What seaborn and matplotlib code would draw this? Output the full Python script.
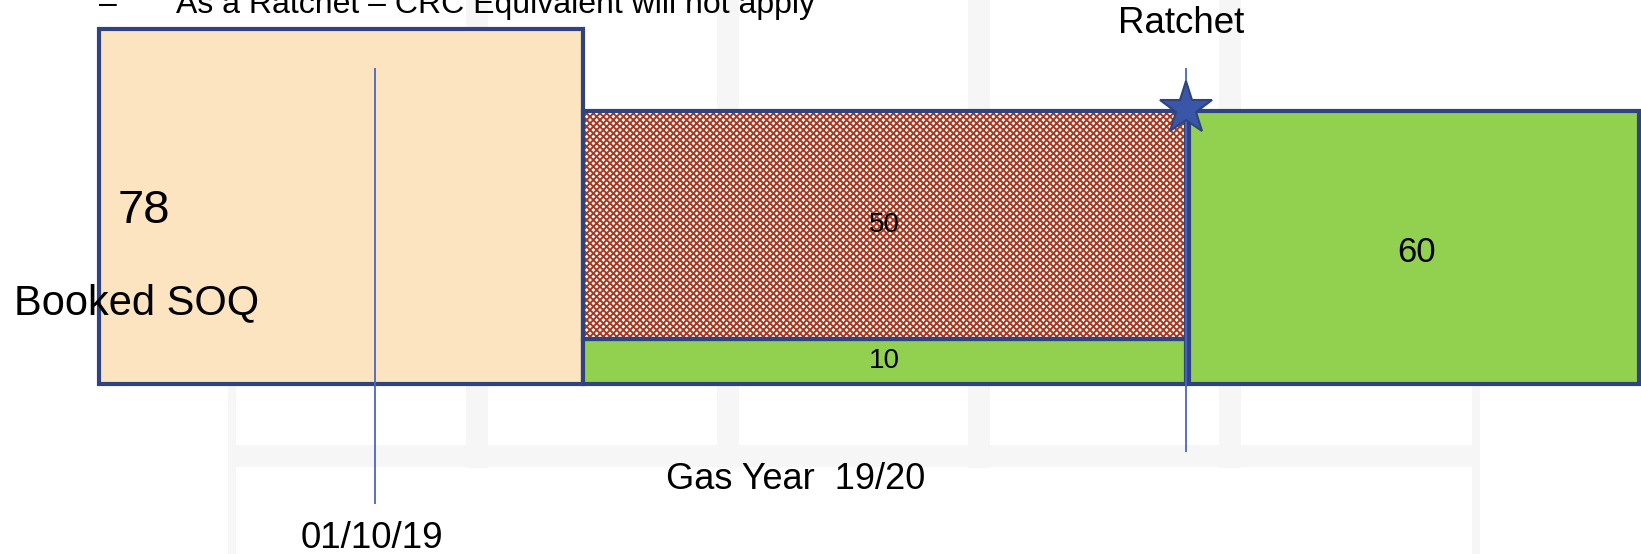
import numpy as np
import pandas as pd
import seaborn as sns
import matplotlib.pyplot as plt
from matplotlib.patches import Rectangle

# Blocks of the SOQ diagram: where they sit on the timeline and their quantities
blocks = ["Booked SOQ", "Interim base", "Interim ratchet", "After ratchet"]
block_start = [0.0, 9.68, 9.68, 21.8]
block_width = [9.68, 12.06, 12.06, 9.0]
block_base = [0, 0, 10, 0]
block_value = [78, 10, 50, 60]
block_color = ["#FCE4C0", "#92D050", "white", "#92D050"]

# Timeline events
event_names = ["01/10/19", "Ratchet"]
event_pos = [5.52, 21.74]

title_bullet = "–"
title_text = "As a Ratchet – CRC Equivalent will not apply"
period_text = "Gas Year  19/20"

df = pd.DataFrame({"block": blocks, "start": block_start, "width": block_width,
                   "base": block_base, "value": block_value, "color": block_color})

sns.set_theme(style="white")
plt.rcParams["font.family"] = ["Liberation Sans", "DejaVu Sans"]
plt.rcParams["text.color"] = "black"
plt.rcParams["hatch.linewidth"] = 1.4

navy = "#2E4380"
line_blue = "#4A66BE"
hatch_red = "#A63A20"

fig = plt.figure(figsize=(16.41, 5.54), dpi=100)

# faint slide-template background (light grey table gaps)
bg = fig.add_axes([0, 0, 1, 1])
bg.set_xlim(0, 1641)
bg.set_ylim(554, 0)
bg.axis("off")
band = "#F6F6F6"
for x0 in [466, 717, 968, 1219]:
    bg.add_patch(Rectangle((x0, 0), 22, 468, color=band, lw=0))
bg.add_patch(Rectangle((228, 384), 8, 170, color=band, lw=0))
bg.add_patch(Rectangle((1472, 384), 8, 170, color=band, lw=0))
bg.add_patch(Rectangle((228, 445), 1252, 22, color=band, lw=0))

ax = fig.add_axes([0, 0, 1, 1])
ax.patch.set_alpha(0)
ax.set_xlim(-1.98, 30.84)
ax.set_ylim(-37.36, 84.4)
ax.axis("off")

for _, r in df.iterrows():
    if r["block"] == "Interim ratchet":
        ax.bar(r["start"], r["value"], width=r["width"], bottom=r["base"], align="edge",
               color="white", edgecolor=hatch_red, hatch="xxxxx", linewidth=0, zorder=2)
        ax.bar(r["start"], r["value"], width=r["width"], bottom=r["base"], align="edge",
               fill=False, edgecolor=navy, linewidth=3, zorder=3)
    else:
        ax.bar(r["start"], r["value"], width=r["width"], bottom=r["base"], align="edge",
               color=r["color"], edgecolor=navy, linewidth=3, zorder=3)

# event lines
ax.vlines(event_pos[0], -26.4, 69.5, color=line_blue, lw=1.3, zorder=4)
ax.vlines(event_pos[1], -15, 69.5, color=line_blue, lw=1.3, zorder=4)
ax.plot(event_pos[1], 60.5, marker="*", markersize=40, color="#3A56A6",
        markeredgecolor=navy, markeredgewidth=1.5, zorder=5)

# labels
ax.text(0.38, 35.4, str(block_value[0]), fontsize=34, ha="left", va="baseline", zorder=6)
ax.text(-1.7, 15.4, blocks[0], fontsize=30, ha="left", va="baseline", zorder=6)
for i in [1, 2, 3]:
    cx = block_start[i] + block_width[i] / 2
    cy = block_base[i] + block_value[i] / 2
    fs = 25 if i == 3 else 20
    if i == 3:
        cx += 0.05
        cy -= 1.2
    ax.text(cx, cy, str(block_value[i]), fontsize=fs, ha="center", va="center", zorder=6)

ax.text(event_pos[0] - 0.06, -34, event_names[0], fontsize=26.5, ha="center", va="center")
ax.text(event_pos[1] - 0.1, 79.3, event_names[1], fontsize=26.5, ha="center", va="center")
ax.text(13.94, -20.9, period_text, fontsize=26, ha="center", va="center")
title_y = 1 - 12.7 / 554
fig.text(99 / 1641, title_y, title_bullet, fontsize=23, ha="left", va="baseline")
fig.text(176 / 1641, title_y, title_text, fontsize=23, ha="left", va="baseline")

fig.savefig("out.png", dpi=100)
